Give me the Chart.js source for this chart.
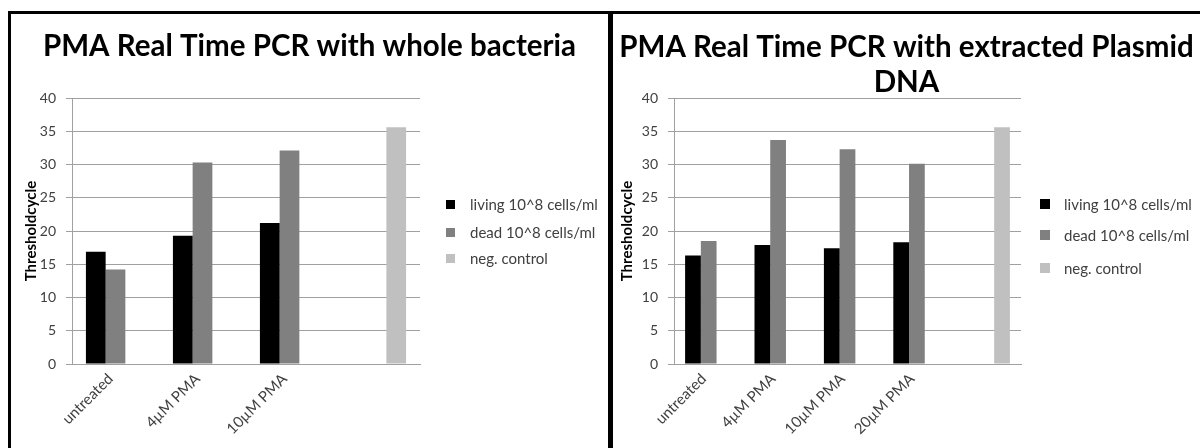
<!DOCTYPE html>
<html>
<head>
<meta charset="utf-8">
<script src="https://cdn.jsdelivr.net/npm/chart.js@4.4.1/dist/chart.umd.min.js"></script>
<style>
  html, body { margin:0; padding:0; background:#fff; width:1200px; height:448px; overflow:hidden; }
  body { position:relative; font-family: Lato, "Open Sans", sans-serif; }
  .panel { position:absolute; top:11px; height:470px; border:3px solid #000; box-sizing:border-box; }
  #p1 { left:8px; width:603px; }
  #p2 { left:610px; width:640px; }
  canvas { position:absolute; }
  #c1 { left:11px; top:14px; }
  #c2 { left:613px; top:14px; }
  .lg { position:absolute; font-family: Lato, sans-serif; font-size:15px; color:#404040; white-space:nowrap; line-height:20px; height:20px; }
  .sq { position:absolute; }
</style>
</head>
<body>
<div class="panel" id="p1"></div>
<div class="panel" id="p2"></div>
<canvas id="c1" width="597" height="434"></canvas>
<canvas id="c2" width="587" height="434"></canvas>
<div id="legends"></div>
<script>
// ---- data ----
const seriesNames = ['living 10^8 cells/ml', 'dead 10^8 cells/ml', 'neg. control'];
const seriesColors = ['#000000', '#808080', '#c0c0c0'];

const titleA = 'PMA Real Time PCR with whole bacteria';
const categoriesA = ['untreated', '4µM PMA', '10µM PMA', ''];
const livingA = [16.9, 19.3, 21.2, null];
const deadA   = [14.2, 30.3, 32.1, null];
const negA    = [null, null, null, 35.6];

const titleB = ['PMA Real Time PCR with extracted Plasmid', 'DNA'];
const categoriesB = ['untreated', '4µM PMA', '10µM PMA', '20µM PMA', ''];
const livingB = [16.3, 17.9, 17.4, 18.3, null];
const deadB   = [18.5, 33.7, 32.3, 30.1, null];
const negB    = [null, null, null, null, 35.6];

const yAxisTitle = 'Thresholdcycle';
const yMin = 0, yMax = 40, yStep = 5;

// ---- chart builder ----
const FONT = 'Lato, "Open Sans", sans-serif';
const gridColor = '#a0a0a0';

function makeChart(id, cats, living, dead, neg, title, cfg) {
  const series = [living, dead, neg];
  return new Chart(document.getElementById(id), {
    type: 'bar',
    data: {
      labels: cats,
      datasets: series.map((d, i) => ({
        label: seriesNames[i],
        data: d,
        backgroundColor: seriesColors[i],
        borderWidth: 0,
        categoryPercentage: 0.68,
        barPercentage: 1.0,
        yAxisID: 'y'
      }))
    },
    options: {
      responsive: false,
      animation: false,
      devicePixelRatio: 1,
      layout: { padding: 0 },
      plugins: {
        legend: { display: false },
        tooltip: { enabled: false },
        title: {
          display: true,
          text: title,
          color: '#000',
          font: { family: FONT, size: 29.5, weight: 'bold', lineHeight: cfg.titleLH },
          padding: { top: cfg.titleTop, bottom: cfg.titleBottom }
        }
      },
      scales: {
        x: {
          grid: { display: false, drawTicks: false },
          border: { display: true, color: gridColor, width: 1 },
          ticks: { minRotation: 45, maxRotation: 45, autoSkip: false, padding: 6, labelOffset: -5,
                   color: '#404040', font: { family: FONT, size: 15 } },
          afterFit: s => { s.height = 84; }
        },
        y: {
          min: yMin, max: yMax,
          ticks: { stepSize: yStep, padding: 10, color: '#404040', font: { family: FONT, size: 14 } },
          grid: { color: gridColor, tickLength: 6, drawTicks: true },
          border: { display: true, color: gridColor },
          title: { display: true, text: yAxisTitle, color: '#000',
                   font: { family: FONT, size: 15, weight: 'bold' },
                   padding: { top: cfg.yTitleTop, bottom: 0 } },
          afterFit: s => { s.width = 61; }
        },
        gap: {
          type: 'linear',
          position: 'right',
          display: true,
          grid: { display: false, drawOnChartArea: false, drawTicks: false },
          border: { display: false },
          ticks: { display: false },
          afterFit: s => { s.width = cfg.padRight; }
        }
      }
    }
  });
}

makeChart('c1', categoriesA, livingA, deadA, negA, titleA,
  { padRight: 188, titleLH: 1.15, titleTop: 16, titleBottom: 34.1, yTitleTop: 11 });
makeChart('c2', categoriesB, livingB, deadB, negB, titleB,
  { padRight: 179, titleLH: 1.2, titleTop: 15.3, titleBottom: -2.1, yTitleTop: 5 });

// ---- HTML legends ----
function legend(x, rows, sq, textX) {
  const host = document.getElementById('legends');
  seriesNames.forEach((name, i) => {
    const s = document.createElement('div');
    s.className = 'sq';
    s.style.left = x + 'px';
    s.style.top = (rows[i] - sq / 2) + 'px';
    s.style.width = sq + 'px';
    s.style.height = sq + 'px';
    s.style.background = seriesColors[i];
    host.appendChild(s);
    const t = document.createElement('div');
    t.className = 'lg';
    t.style.left = textX + 'px';
    t.style.top = (rows[i] - 10) + 'px';
    t.textContent = name;
    host.appendChild(t);
  });
}
legend(446, [204, 232, 258], 9, 470);
legend(1040, [204, 235, 268], 10, 1064);
</script>
</body>
</html>
